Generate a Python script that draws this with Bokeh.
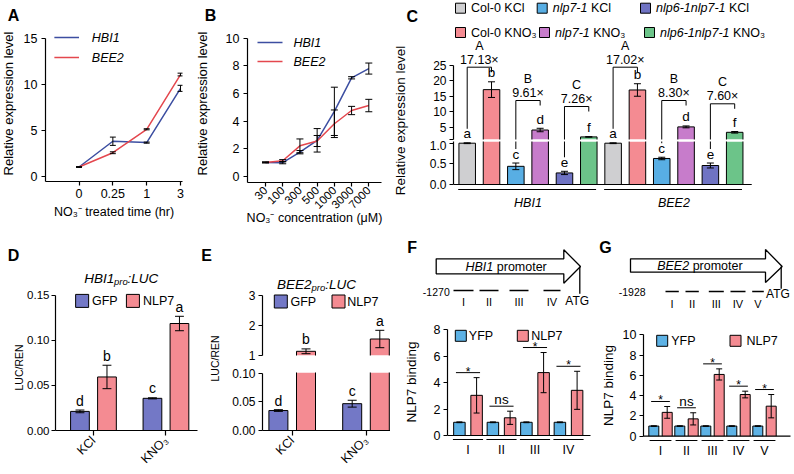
import math
from bokeh.plotting import figure
from bokeh.layouts import row, column
from bokeh.models import Range1d, FixedTicker
from bokeh.core.properties import value
from bokeh.embed import file_html
from bokeh.resources import INLINE

# ---------------- data ----------------
GENES = ["HBI1", "BEE2"]

A_TIMES = ["0", "0.25", "1", "3"]
A_HBI1 = [1.0, 3.8, 3.65, 9.55]
A_HBI1_ERR = [0.03, 0.45, 0.06, 0.33]
A_BEE2 = [1.0, 2.55, 5.1, 11.05]
A_BEE2_ERR = [0.03, 0.1, 0.06, 0.15]

B_CONC = ["30", "100", "300", "500", "1000", "3000", "7000"]
B_HBI1 = [1.0, 0.98, 1.74, 2.6, 4.7, 7.13, 7.8]
B_HBI1_ERR = [0.03, 0.08, 0.12, 0.85, 1.75, 0.08, 0.4]
B_BEE2 = [1.0, 1.12, 2.2, 2.55, 3.8, 4.76, 5.12]
B_BEE2_ERR = [0.03, 0.08, 0.5, 0.4, 1.0, 0.3, 0.45]

C_GENOTYPES = ["Col-0", "nlp7-1", "nlp6-1nlp7-1"]
C_TREATMENTS = ["KCl", "KNO\u2083"]
C_HBI1 = [1.0, 17.13, 0.44, 4.23, 0.28, 2.03]
C_HBI1_ERR = [0.01, 2.5, 0.08, 0.55, 0.04, 0.08]
C_BEE2 = [1.0, 17.02, 0.63, 5.23, 0.46, 3.5]
C_BEE2_ERR = [0.01, 2.0, 0.03, 0.3, 0.06, 0.25]
C_LETTERS = ["a", "b", "c", "d", "e", "f"]
C_PAIRS = ["A", "B", "C"]
C_FOLD_HBI1 = ["17.13\u00d7", "9.61\u00d7", "7.26\u00d7"]
C_FOLD_BEE2 = ["17.02\u00d7", "8.30\u00d7", "7.60\u00d7"]

D_TREAT = ["KCl", "KNO\u2083"]
D_GFP = [0.0212, 0.0357]
D_GFP_ERR = [0.0015, 0.0006]
D_NLP7 = [0.0594, 0.1187]
D_NLP7_ERR = [0.013, 0.008]
D_LET_GFP = ["d", "c"]
D_LET_NLP7 = ["b", "a"]

E_TREAT = ["KCl", "KNO\u2083"]
E_GFP = [0.035, 0.047]
E_GFP_ERR = [0.0015, 0.006]
E_NLP7 = [1.14, 1.55]
E_NLP7_ERR = [0.08, 0.29]
E_LET_GFP = ["d", "c"]
E_LET_NLP7 = ["b", "a"]

F_REGIONS = ["I", "II", "III", "IV"]
F_YFP = [1.0, 1.0, 1.0, 1.0]
F_YFP_ERR = [0.03, 0.03, 0.03, 0.03]
F_NLP7 = [3.04, 1.34, 4.76, 3.42]
F_NLP7_ERR = [1.34, 0.5, 1.52, 1.44]
F_SIG = ["*", "ns", "*", "*"]

G_REGIONS = ["I", "II", "III", "IV", "V"]
G_YFP = [1.0, 1.0, 1.0, 1.0, 1.0]
G_YFP_ERR = [0.03, 0.03, 0.03, 0.03, 0.03]
G_NLP7 = [2.35, 1.71, 6.09, 4.11, 2.96]
G_NLP7_ERR = [0.58, 0.6, 0.55, 0.33, 1.15]
G_SIG = ["*", "ns", "*", "*", "*"]

# ---------------- style ----------------
FONT = "Liberation Sans"
HBI1_COL = "#3c4ea1"
BEE2_COL = "#e4474e"
C_COLORS = [["#cfcfd1", "#f48b92"], ["#58aee4", "#c77ccb"], ["#6f73c3", "#6cc489"]]
GFP_COL = "#7378c6"
NLP7_COL = "#f48b92"
YFP_COL = "#5db2e5"


def fs(v):
    return "%.1fpx" % v


AW = {" ": 278, "-": 333, ".": 278, ":": 278, "(": 333, ")": 333, "\u00d7": 584, "/": 278,
      "A": 667, "B": 667, "C": 722, "E": 667, "F": 611, "G": 778, "H": 722, "I": 278, "K": 667,
      "L": 556, "N": 722, "O": 778, "P": 667, "R": 722, "T": 611, "U": 722, "Y": 667,
      "c": 500, "i": 222, "l": 222, "m": 833, "r": 333, "s": 500, "t": 278, "v": 500, "x": 500}


def tw(s, size):
    return sum(AW.get(ch, 556) for ch in s) / 1000.0 * size


class Pan:
    """A figure placed at box (page px), with its plotting frame at frame (page px)."""

    def __init__(self, box, frame=None, xmap=(0, 0, 1, 1), ymap=(0, 0, 1, -1), xaxis=True, yaxis=True):
        bx0, by0, bx1, by1 = box
        fx0, fy0, fx1, fy1 = frame if frame else box
        self.xm, self.ym = xmap, ymap
        self.kx = (xmap[3] - xmap[1]) / (xmap[2] - xmap[0])
        self.ky = (ymap[3] - ymap[1]) / (ymap[2] - ymap[0])
        self.fy0, self.fy1 = fy0, fy1
        xr = Range1d(self.x(fx0), self.x(fx1))
        yr = Range1d(self.y(fy1), self.y(fy0))
        self.p = figure(width=int(bx1 - bx0), height=int(by1 - by0), x_range=xr, y_range=yr,
                        title=None, tools="", toolbar_location=None, output_backend="svg",
                        x_axis_location="below" if xaxis else None,
                        y_axis_location="left" if yaxis else None,
                        min_border_left=int(fx0 - bx0), min_border_right=int(bx1 - fx1),
                        min_border_top=int(fy0 - by0), min_border_bottom=int(by1 - fy1))
        p = self.p
        p.frame_align = False
        p.outline_line_color = None
        p.background_fill_color = "white"
        p.border_fill_color = "white"
        for g in p.grid:
            g.visible = False

    def x(self, px):
        return self.xm[1] + (px - self.xm[0]) * self.kx

    def y(self, py):
        return self.ym[1] + (py - self.ym[0]) * self.ky

    def py(self, v):
        return self.ym[0] + (v - self.ym[1]) / self.ky

    def ux(self, d):
        return abs(d * self.kx)

    def uy(self, d):
        return abs(d * self.ky)

    def inside(self, py, half=7):
        return self.fy0 + half <= py <= self.fy1 - half


def style_axis(ax, ticks=None, overrides=None, label=None, bounds=None, tick_out=4, tick_size=12.5,
               label_size=12.5, standoff=3, label_standoff=4, orient=None, line=True, tick=True,
               tick_style="normal"):
    if ticks is not None:
        ax.ticker = FixedTicker(ticks=ticks)
    if overrides:
        ax.major_label_overrides = overrides
    ax.axis_label = label
    if bounds is not None:
        ax.bounds = bounds
    ax.axis_line_color = "black" if line else None
    ax.axis_line_width = 1.2
    ax.major_tick_line_color = "black" if tick else None
    ax.major_tick_line_width = 1.2
    ax.major_tick_out = tick_out if tick else 0
    ax.major_tick_in = 0
    ax.minor_tick_line_color = None
    ax.major_label_text_font = FONT
    ax.major_label_text_font_size = fs(tick_size)
    ax.major_label_text_font_style = tick_style
    ax.major_label_text_color = "black"
    ax.major_label_standoff = standoff
    ax.axis_label_text_font = FONT
    ax.axis_label_text_font_style = "normal"
    ax.axis_label_text_font_size = fs(label_size)
    ax.axis_label_text_color = "black"
    ax.axis_label_standoff = label_standoff
    if orient is not None:
        ax.major_label_orientation = orient


def txt(p, xs, ys, texts, size, style="normal", align="center", baseline="middle", angle=0.0, color="black"):
    p.text(x=list(xs), y=list(ys), text=list(texts), text_font=value(FONT), text_font_size=fs(size),
           text_font_style=style, text_align=align, text_baseline=baseline, angle=angle, text_color=color)


def bars(P, xs, tops, width, colors, lw=1.0):
    """Bars from 0, drawn only where they meet this figure's y range; outline only on real edges."""
    p = P.p
    y0, y1 = p.y_range.start, p.y_range.end
    m = (y1 - y0) * 0.03
    keep = [i for i, t in enumerate(tops) if t > y0]
    if not keep:
        return
    kx = [xs[i] for i in keep]
    kt = [tops[i] for i in keep]
    kc = [colors[i] for i in keep]
    bot = max(0.0, y0 - m)
    tt = [min(t, y1 + m) for t in kt]
    n = len(kx)
    hw = width / 2.0
    p.vbar(x=kx, bottom=bot, top=tt, width=width, fill_color=kc, line_color=None)
    p.segment([x - hw for x in kx], [bot] * n, [x - hw for x in kx], tt, line_color="black", line_width=lw)
    p.segment([x + hw for x in kx], [bot] * n, [x + hw for x in kx], tt, line_color="black", line_width=lw)
    tin = [(x, t) for x, t in zip(kx, kt) if t <= y1]
    if tin:
        p.segment([x - hw for x, t in tin], [t for x, t in tin], [x + hw for x, t in tin], [t for x, t in tin],
                  line_color="black", line_width=lw)


def errbars(P, xs, ys, es, cw, color="black", lw=1.0):
    p = P.p
    y0, y1 = p.y_range.start, p.y_range.end
    m = (y1 - y0) * 0.03
    vx, va, vb, cxs, cys = [], [], [], [], []
    for x, y, e in zip(xs, ys, es):
        lo, hi = y - e, y + e
        if hi < y0 or lo > y1:
            continue
        vx.append(x)
        va.append(max(lo, y0 - m))
        vb.append(min(hi, y1 + m))
        for c in (lo, hi):
            if y0 <= c <= y1:
                cxs.append(x)
                cys.append(c)
    if vx:
        p.segment(vx, va, vx, vb, line_color=color, line_width=lw)
    if cxs:
        p.segment([x - cw for x in cxs], cys, [x + cw for x in cxs], cys, line_color=color, line_width=lw)


def square_legend(P, items, size=11, tsize=12.5):
    p = P.p
    for cx, cy, col, label, tx in items:
        p.scatter([P.x(cx)], [P.y(cy)], marker="square", size=size, fill_color=col,
                  line_color="black", line_width=1.0)
        txt(p, [P.x(tx)], [P.y(cy)], [label], tsize, align="left")


def side_canvas(box, letter, lpos, title, tpos, tsize=13):
    P = Pan(box, xaxis=False, yaxis=False)
    txt(P.p, [P.x(lpos[0])], [P.y(lpos[1])], [letter], 16, style="bold")
    txt(P.p, [P.x(tpos[0])], [P.y(tpos[1])], [title], tsize, angle=math.pi / 2)
    return P


# ================= A =================
AT = side_canvas((0, 0, 20, 236), "A", (13, 15), "Relative expression level", (8, 103))
A = Pan((20, 0, 190, 236), (43, 30, 182, 181), xmap=(77, 0, 180, 3), ymap=(175.7, 0, 37.7, 15))
p = A.p
xa = list(range(len(A_TIMES)))
p.line(xa, A_HBI1, line_color=HBI1_COL, line_width=1.5)
p.line(xa, A_BEE2, line_color=BEE2_COL, line_width=1.5)
errbars(A, xa, A_HBI1, A_HBI1_ERR, A.ux(3))
errbars(A, xa, A_BEE2, A_BEE2_ERR, A.ux(3))
style_axis(p.yaxis[0], ticks=[0, 5, 10, 15], bounds=(p.y_range.start, 15), standoff=4)
style_axis(p.xaxis[0], ticks=xa, overrides={i: s for i, s in enumerate(A_TIMES)},
           label="NO\u2083\u207b treated time (hr)", standoff=3, label_standoff=4)
for name, col, yy in ((GENES[0], HBI1_COL, 37), (GENES[1], BEE2_COL, 57)):
    p.segment([A.x(52)], [A.y(yy)], [A.x(77)], [A.y(yy)], line_color=col, line_width=1.5)
    txt(p, [A.x(90)], [A.y(yy)], [name], 12.5, style="italic", align="left")

# ================= B =================
BT = side_canvas((190, 0, 216, 236), "B", (210, 15), "Relative expression level", (202, 103))
B = Pan((216, 0, 390, 236), (247, 30, 381, 182), xmap=(265, 0, 368.3, 6), ymap=(175.7, 0, 37.7, 10))
p = B.p
xb = list(range(len(B_CONC)))
p.line(xb, B_HBI1, line_color=HBI1_COL, line_width=1.5)
p.line(xb, B_BEE2, line_color=BEE2_COL, line_width=1.5)
errbars(B, xb, B_HBI1, B_HBI1_ERR, B.ux(3.5))
errbars(B, xb, B_BEE2, B_BEE2_ERR, B.ux(3.5))
style_axis(p.yaxis[0], ticks=[0, 2, 4, 6, 8, 10], bounds=(p.y_range.start, 10), standoff=4)
style_axis(p.xaxis[0], ticks=xb, overrides={i: s for i, s in enumerate(B_CONC)}, tick_size=11.5,
           label="NO\u2083\u207b concentration (\u03bcM)", standoff=2, label_standoff=-4, orient=math.pi / 4)
for name, col, yy in ((GENES[0], HBI1_COL, 42), (GENES[1], BEE2_COL, 61)):
    p.segment([B.x(257)], [B.y(yy)], [B.x(282)], [B.y(yy)], line_color=col, line_width=1.5)
    txt(p, [B.x(293)], [B.y(yy)], [name], 12.5, style="italic", align="left")

# ================= C =================
CT = side_canvas((390, 0, 420, 236), "C", (411.7, 15.7), "Relative expression level", (400, 120), tsize=13.5)

CUP = Pan((420, 0, 794, 140), (453, 0, 790, 139), xmap=(466.7, 0, 734.2, 11), ymap=(139, 1.2, 64.5, 25),
          xaxis=False)
CLOW = Pan((420, 140, 794, 236), (453, 141, 790, 192), xmap=(466.7, 0, 734.2, 11), ymap=(184, 0, 142.7, 1.0))

c_vals = C_HBI1 + C_BEE2
c_errs = C_HBI1_ERR + C_BEE2_ERR
nC = len(c_vals)
cx = list(range(nC))
c_cols = [C_COLORS[(i % 6) // 2][i % 2] for i in cx]
for P in (CUP, CLOW):
    bars(P, cx, c_vals, 0.68, c_cols)
    errbars(P, cx, c_vals, c_errs, P.ux(3.5))

style_axis(CUP.p.yaxis[0], ticks=[1.2, 5, 10, 15, 20, 25], overrides={1.2: ""},
           bounds=(CUP.p.y_range.start, 25), tick_size=12)
style_axis(CLOW.p.yaxis[0], ticks=[0, 0.5, 1], overrides={0: "0.0", 0.5: "0.5", 1: "1.0"},
           bounds=(0, CLOW.p.y_range.end), tick_size=12)
style_axis(CLOW.p.xaxis[0], ticks=[2.5, 8.5], overrides={2.5: GENES[0], 8.5: GENES[1]}, line=False, tick=False,
           tick_size=12.5, standoff=3, tick_style="italic")
CLOW.p.segment([CLOW.p.x_range.start], [0], [nC - 1 + 0.7], [0], line_color="black", line_width=1.2)
for g in range(len(GENES)):
    yy = CLOW.y(189)
    CLOW.p.segment([6 * g - 0.37], [yy], [6 * g + 5 + 0.3], [yy], line_color="black", line_width=1.2)


def c_py(v):
    if v >= CUP.p.y_range.start:
        return CUP.py(v)
    return CLOW.py(v)


letter_py = [c_py(v + e) - 9 for v, e in zip(c_vals, c_errs)]
for i in cx:
    q = letter_py[i]
    P = CUP if q < 140 else CLOW
    txt(P.p, [i], [P.y(q)], [C_LETTERS[i % 6]], 13.5)

C_BRACKET_PY = [[66.7, 100, 106], [66.7, 100, 103.3]]
folds = [C_FOLD_HBI1, C_FOLD_BEE2]
for g in range(len(GENES)):
    for k in range(3):
        iL = 6 * g + 2 * k
        iR = iL + 1
        top = C_BRACKET_PY[g][k]
        for P in (CUP, CLOW):
            P.p.segment([iL, iL, iR], [P.y(top), P.y(top), P.y(top)],
                        [iR, iL, iR], [P.y(top), P.y(letter_py[iL] - 5), P.y(top + 5)],
                        line_color="black", line_width=1.0)
        txt(CUP.p, [iL + 0.5], [CUP.y(top - 7.5)], [folds[g][k]], 12.5)
        txt(CUP.p, [iL + 0.5], [CUP.y(top - 21.5)], [C_PAIRS[k]], 12.5)

leg_x = [[460, 541.7, 645], [460, 544, 649]]
leg_y = [7.7, 32]
for t in range(2):
    for gi, geno in enumerate(C_GENOTYPES):
        sx0 = leg_x[t][gi]
        yy = leg_y[t]
        CUP.p.scatter([CUP.x(sx0)], [CUP.y(yy)], marker="square", size=10,
                      fill_color=C_COLORS[gi][t], line_color="black", line_width=1.0)
        tx = sx0 + 10.5
        style = "normal" if gi == 0 else "italic"
        txt(CUP.p, [CUP.x(tx)], [CUP.y(yy)], [geno], 12.5, style=style, align="left")
        tx2 = tx + tw(geno + " ", 12.5)
        txt(CUP.p, [CUP.x(tx2)], [CUP.y(yy)], [C_TREATMENTS[t]], 12.5, align="left")

# ================= D =================
DT = side_canvas((0, 236, 24, 474), "D", (13, 255), "LUC/REN", (18, 367), tsize=10.5)
D = Pan((24, 236, 200, 474), (53, 268, 197, 433), xmap=(91.5, 0, 165, 1), ymap=(433, 0, 295.3, 0.15))
p = D.p
xd = list(range(len(D_TREAT)))
dd = D.ux(13.7)
wd = D.ux(19)
xg = [x - dd for x in xd]
xn = [x + dd for x in xd]
bars(D, xg, D_GFP, wd, [GFP_COL] * len(xg))
bars(D, xn, D_NLP7, wd, [NLP7_COL] * len(xn))
errbars(D, xg, D_GFP, D_GFP_ERR, D.ux(4.5))
errbars(D, xn, D_NLP7, D_NLP7_ERR, D.ux(4.5))
txt(p, xg, [v + e + D.uy(9.5) for v, e in zip(D_GFP, D_GFP_ERR)], D_LET_GFP, 14)
txt(p, xn, [v + e + D.uy(9.5) for v, e in zip(D_NLP7, D_NLP7_ERR)], D_LET_NLP7, 14)
style_axis(p.yaxis[0], ticks=[0, 0.05, 0.1, 0.15],
           overrides={0: "0.00", 0.05: "0.05", 0.1: "0.10", 0.15: "0.15"}, bounds=(0, 0.15),
           tick_size=11.5, standoff=2)
style_axis(p.xaxis[0], ticks=xd, overrides={i: s for i, s in enumerate(D_TREAT)}, tick_out=5,
           orient=math.pi / 4, standoff=3, tick_size=12.5)
square_legend(D, [(80, 301, GFP_COL, "GFP", 90), (131.5, 301, NLP7_COL, "NLP7", 141.7)], size=13)
t0 = 119.5 - (tw("HBI1", 13.5) + tw("pro", 9.5) + tw(":LUC", 13.5)) / 2
txt(p, [D.x(t0)], [D.y(278)], ["HBI1"], 13.5, style="italic", align="left")
t1 = t0 + tw("HBI1", 13.5)
txt(p, [D.x(t1)], [D.y(281)], ["pro"], 9.5, style="italic", align="left")
t2 = t1 + tw("pro", 9.5)
txt(p, [D.x(t2)], [D.y(278)], [":LUC"], 13.5, style="italic", align="left")

# ================= E =================
ET = side_canvas((200, 236, 222, 474), "E", (206, 255), "LUC/REN", (214, 358), tsize=10.5)
EUP = Pan((222, 236, 390, 364), (262, 272, 390, 355), xmap=(291.7, 0, 365.5, 1), ymap=(355, 1, 295, 3),
          xaxis=False)
ELOW = Pan((222, 364, 390, 474), (262, 372, 390, 433), xmap=(291.7, 0, 365.5, 1), ymap=(433, 0, 403, 0.05))
xe = list(range(len(E_TREAT)))
de = EUP.ux(13.8)
we = EUP.ux(19)
xg = [x - de for x in xe]
xn = [x + de for x in xe]
for P in (EUP, ELOW):
    bars(P, xg, E_GFP, we, [GFP_COL] * len(xg))
    bars(P, xn, E_NLP7, we, [NLP7_COL] * len(xn))
    errbars(P, xg, E_GFP, E_GFP_ERR, P.ux(4.5))
    errbars(P, xn, E_NLP7, E_NLP7_ERR, P.ux(4.5))
for xs_, vals, errs, lets in ((xg, E_GFP, E_GFP_ERR, E_LET_GFP), (xn, E_NLP7, E_NLP7_ERR, E_LET_NLP7)):
    for x, v, e, s in zip(xs_, vals, errs, lets):
        for P in (EUP, ELOW):
            q = P.py(v + e) - 9.5
            if P.inside(q):
                txt(P.p, [x], [P.y(q)], [s], 14)
style_axis(EUP.p.yaxis[0], ticks=[1, 2, 3], bounds=(1, 3), tick_size=12)
style_axis(ELOW.p.yaxis[0], ticks=[0, 0.05, 0.1], overrides={0: "0.00", 0.05: "0.05", 0.1: "0.10"},
           bounds=(0, 0.1), tick_size=12)
style_axis(ELOW.p.xaxis[0], ticks=xe, overrides={i: s for i, s in enumerate(E_TREAT)}, tick_out=5,
           orient=math.pi / 4, standoff=3, tick_size=12.5)
square_legend(EUP, [(280.3, 301, GFP_COL, "GFP", 290), (338, 301, NLP7_COL, "NLP7", 346.7)], size=13)
t0 = 316 - (tw("BEE2", 13.5) + tw("pro", 9.5) + tw(":LUC", 13.5)) / 2
txt(EUP.p, [EUP.x(t0)], [EUP.y(284)], ["BEE2"], 13.5, style="italic", align="left")
t1 = t0 + tw("BEE2", 13.5)
txt(EUP.p, [EUP.x(t1)], [EUP.y(287)], ["pro"], 9.5, style="italic", align="left")
t2 = t1 + tw("pro", 9.5)
txt(EUP.p, [EUP.x(t2)], [EUP.y(284)], [":LUC"], 13.5, style="italic", align="left")


# ================= F / G charts =================
def binding_chart(P, regions, yfp, yfp_err, nlp7, nlp7_err, sig, dodge_px, width_px, base_end_px,
                  under_py, under_half, yticks, ytop, leg, label_standoff):
    p = P.p
    xs = list(range(len(regions)))
    d = P.ux(dodge_px)
    w = P.ux(width_px)
    xy = [x - d for x in xs]
    xn = [x + d for x in xs]
    bars(P, xy, yfp, w, [YFP_COL] * len(xs))
    bars(P, xn, nlp7, w, [NLP7_COL] * len(xs))
    errbars(P, xy, yfp, yfp_err, P.ux(3))
    errbars(P, xn, nlp7, nlp7_err, P.ux(3))
    p.segment([p.x_range.start], [0], [P.x(base_end_px)], [0], line_color="black", line_width=1.2)
    uy = P.y(under_py)
    p.segment([x - under_half for x in xs], [uy] * len(xs), [x + under_half for x in xs], [uy] * len(xs),
              line_color="black", line_width=1.2)
    ly_ = [max(a + b, c + e) + P.uy(5) for a, b, c, e in zip(yfp, yfp_err, nlp7, nlp7_err)]
    p.segment([x - 0.36 for x in xs], ly_, [x + 0.36 for x in xs], ly_, line_color="black", line_width=1.0)
    for x, yv, s in zip(xs, ly_, sig):
        if s == "ns":
            txt(p, [x], [yv + P.uy(6.7)], [s], 13.5)
        else:
            txt(p, [x], [yv + P.uy(1)], [s], 12)
    style_axis(p.yaxis[0], ticks=yticks, bounds=(0, ytop), label="NLP7 binding", tick_size=12.5,
               label_size=13.5, label_standoff=label_standoff)
    style_axis(p.xaxis[0], ticks=xs, overrides={i: s for i, s in enumerate(regions)}, line=False, tick=False,
               standoff=1, tick_size=12.5)
    square_legend(P, leg, size=11)


FC = Pan((390, 318, 595, 474), (447, 322, 592, 441), xmap=(467.5, 0, 568, 3), ymap=(435, 0, 329.3, 8))
binding_chart(FC, F_REGIONS, F_YFP, F_YFP_ERR, F_NLP7, F_NLP7_ERR, F_SIG, 8.6, 11.5, 590, 439, 0.45,
              [0, 2, 4, 6, 8], 8,
              [(460.3, 335.3, YFP_COL, "YFP", 468.3), (522.3, 335.3, NLP7_COL, "NLP7", 530.7)], 12)

GC = Pan((595, 318, 794, 474), (643, 328, 792, 442), xmap=(660, 0, 764, 4), ymap=(435.7, 0, 334.3, 10))
binding_chart(GC, G_REGIONS, G_YFP, G_YFP_ERR, G_NLP7, G_NLP7_ERR, G_SIG, 6.7, 10, 790, 440, 0.42,
              [0, 2, 4, 6, 8, 10], 10,
              [(661.7, 340.3, YFP_COL, "YFP", 670.7), (735, 340.3, NLP7_COL, "NLP7", 746)], 4)


# ================= promoter diagrams =================
def diagram(P, letter, lpos, gene, body, head, tip, text_x, text_y, vline, atg, start_lbl, start_pos,
            frags, frag_y, regions, reg_y):
    p = P.p
    txt(p, [P.x(lpos[0])], [P.y(lpos[1])], [letter], 16, style="bold")
    bx0, by0, bx1, by1 = body
    xs = [bx0, bx1, bx1, tip[0], bx1, bx1, bx0]
    ys = [by0, by0, head[0], tip[1], head[1], by1, by1]
    p.patch([P.x(v) for v in xs], [P.y(v) for v in ys], fill_color="white", line_color="black", line_width=1.3)
    txt(p, [P.x(text_x)], [P.y(text_y)], [gene], 12.5, style="italic", align="left")
    txt(p, [P.x(text_x + tw(gene + " ", 12.5))], [P.y(text_y)], ["promoter"], 12.5, align="left")
    p.segment([P.x(vline[0])], [P.y(vline[1])], [P.x(vline[0])], [P.y(vline[2])], line_color="black",
              line_width=1.3)
    txt(p, [P.x(atg[0])], [P.y(atg[1])], ["ATG"], 12)
    txt(p, [P.x(start_pos[0])], [P.y(start_pos[1])], [start_lbl], 10.5)
    p.segment([P.x(a) for a, b in frags], [P.y(frag_y)] * len(frags), [P.x(b) for a, b in frags],
              [P.y(frag_y)] * len(frags), line_color="black", line_width=1.5)
    txt(p, [P.x((a + b) / 2) for a, b in frags], [P.y(reg_y)] * len(frags), regions, 11)


FD = Pan((390, 236, 595, 318), xaxis=False, yaxis=False)
diagram(FD, "F", (411.7, 246.7), GENES[0], (435.7, 258.3, 563.3, 273.3), (249.3, 282.7), (580, 266),
        465, 266.5, (579.3, 266, 293.3), (576.7, 300), "-1270", (435.8, 291.7),
        [(453, 473), (479, 498), (509, 528), (543, 560)], 290, F_REGIONS, 301.7)
GD = Pan((595, 236, 794, 318), xaxis=False, yaxis=False)
diagram(GD, "G", (605, 246.7), GENES[1], (630, 258.3, 765, 271.7), (249, 282), (781.7, 266),
        656.7, 265.5, (780.7, 266, 288.3), (777.5, 293), "-1928", (631.7, 291),
        [(665, 678.3), (685, 698.3), (708.3, 723.3), (730, 745), (751.7, 763.3)], 291, G_REGIONS, 303.3)

# ================= layout =================
top = row(AT.p, A.p, BT.p, B.p, CT.p, column(CUP.p, CLOW.p))
bottom = row(DT.p, D.p, ET.p, column(EUP.p, ELOW.p), column(FD.p, FC.p), column(GD.p, GC.p))
root = column(top, bottom)
open("out.html", "w").write(file_html(root, INLINE))
